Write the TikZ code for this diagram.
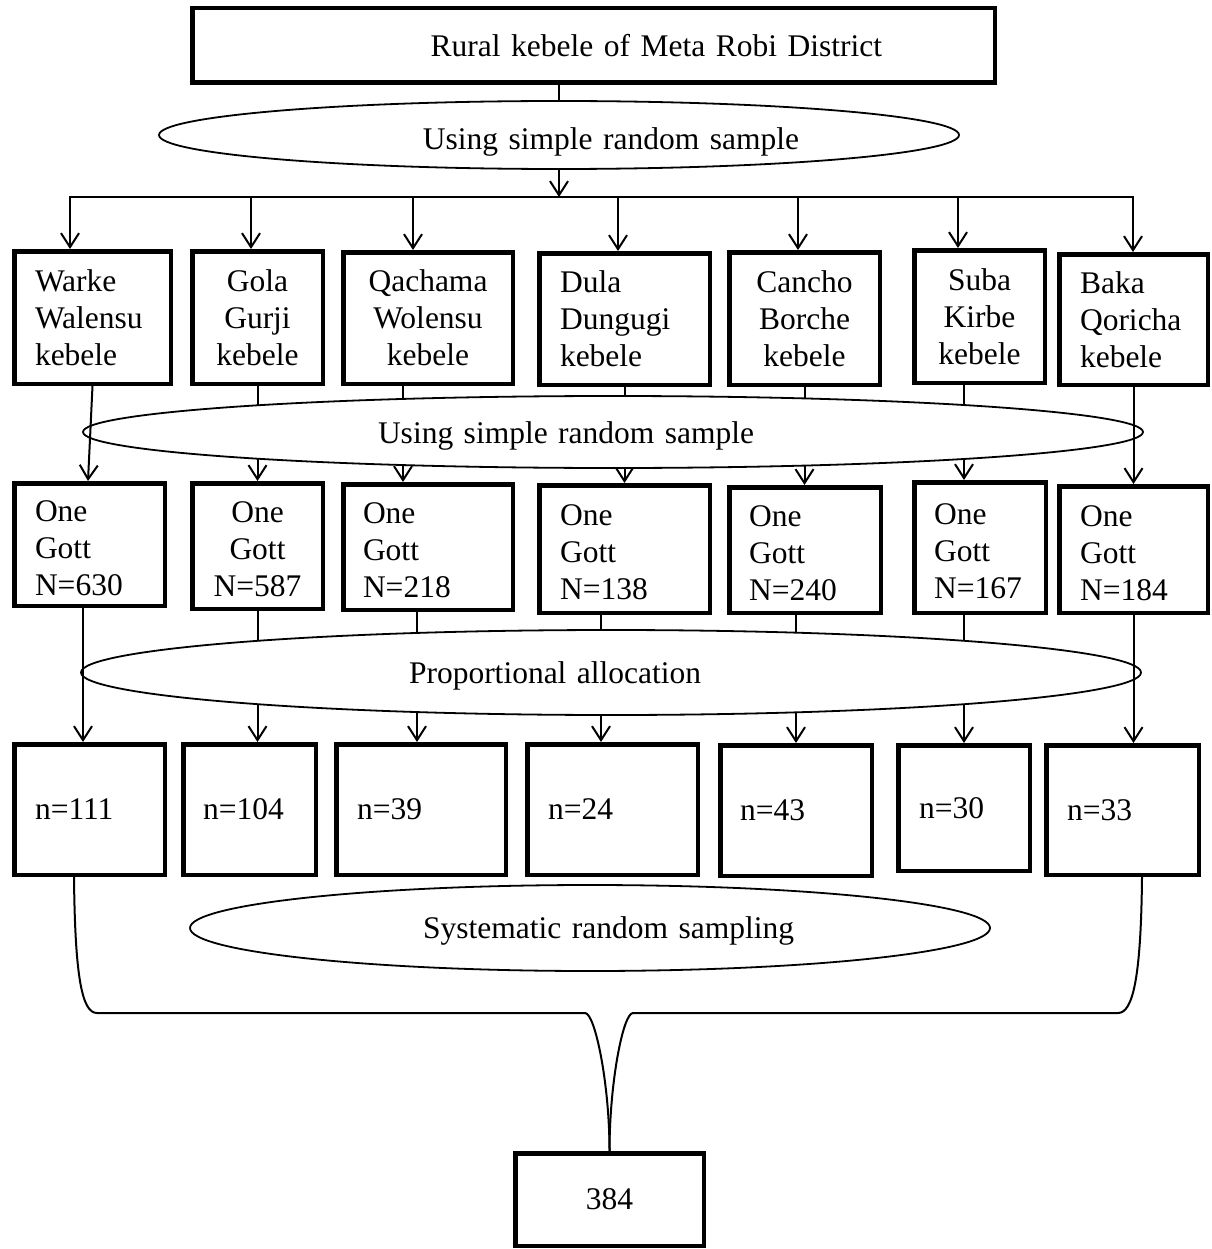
\documentclass[tikz,border=0pt]{standalone}
\usepackage{fontspec}
\setmainfont{Liberation Serif}
\usetikzlibrary{arrows.meta,shapes.geometric}
\begin{document}
\begin{tikzpicture}[x=1pt,y=-1pt,
  every node/.style={font=\fontsize{31.5}{37}\selectfont},
  rbox/.style={draw, line width=4.5pt, inner sep=0pt, fill=white},
  lbox/.style={rbox, align=left},
  cbox/.style={rbox, align=center},
  oval/.style={draw, ellipse, line width=1.8pt, fill=white, inner sep=0pt},
  conn/.style={line width=2pt},
  arr/.style={line width=2pt, -{Straight Barb[length=14pt,width=18pt]}},
  rowone/.style={text height=22pt},
  rowtwo/.style={text height=28pt}
]
\useasboundingbox (0,0) rectangle (1211,1249);

% top box
\node[rbox, align=right, text width=577pt, minimum width=802.5pt, minimum height=74.5pt] (top) at (593.5,45.5) {Rural kebele of Meta Robi District};

% row 1: kebeles
\node[lbox, rowone, text width=115pt, minimum width=156.5pt, minimum height=132.5pt] (k1) at (92.5,317.5) {Warke\\Walensu\\kebele};
\node[cbox, rowone, text width=120pt, minimum width=130.5pt, minimum height=132.5pt] (k2) at (257.5,317.5) {Gola\\Gurji\\kebele};
\node[cbox, rowone, text width=150pt, minimum width=169.5pt, minimum height=131.5pt] (k3) at (428,318) {Qachama\\Wolensu\\kebele};
\node[lbox, rowone, text width=129pt, minimum width=170.5pt, minimum height=131.5pt] (k4) at (624.5,319) {Dula\\Dungugi\\kebele};
\node[cbox, rowone, text width=140pt, minimum width=150.5pt, minimum height=132.5pt] (k5) at (804.5,318.5) {Cancho\\Borche\\kebele};
\node[cbox, rowone, text width=120pt, minimum width=130.5pt, minimum height=132.5pt] (k6) at (979.5,316.5) {Suba\\Kirbe\\kebele};
\node[lbox, rowone, text width=107pt, minimum width=148.5pt, minimum height=130.5pt] (k7) at (1133.5,319.5) {Baka\\Qoricha\\kebele};

% row 2: Gotts
\node[lbox, rowtwo, text width=109pt, minimum width=150.5pt, minimum height=122.5pt] (g1) at (89.5,544.5) {One\\Gott\\N=630};
\node[cbox, rowtwo, text width=120pt, minimum width=130.5pt, minimum height=125.5pt] (g2) at (257.5,546) {One\\Gott\\N=587};
\node[lbox, rowtwo, text width=130pt, minimum width=169.5pt, minimum height=125.5pt] (g3) at (428,547) {One\\Gott\\N=218};
\node[lbox, rowtwo, text width=129pt, minimum width=170.5pt, minimum height=127.5pt] (g4) at (624.5,549) {One\\Gott\\N=138};
\node[lbox, rowtwo, text width=112pt, minimum width=151.5pt, minimum height=125.5pt] (g5) at (805,550) {One\\Gott\\N=240};
\node[lbox, rowtwo, text width=92pt, minimum width=131.5pt, minimum height=130.5pt] (g6) at (980,547.5) {One\\Gott\\N=167};
\node[lbox, rowtwo, text width=107pt, minimum width=148.5pt, minimum height=126.5pt] (g7) at (1133.5,549.5) {One\\Gott\\N=184};

% row 3: samples
\node[lbox, text width=109pt, minimum width=150.5pt, minimum height=130.5pt] (n1) at (89.5,809.5) {n=111};
\node[lbox, text width=93pt, minimum width=132.5pt, minimum height=130.5pt] (n2) at (249.5,809.5) {n=104};
\node[lbox, text width=128pt, minimum width=169.5pt, minimum height=130.5pt] (n3) at (421,809.5) {n=39};
\node[lbox, text width=129pt, minimum width=170.5pt, minimum height=130.5pt] (n4) at (612.5,809.5) {n=24};
\node[lbox, text width=112pt, minimum width=151.5pt, minimum height=130.5pt] (n5) at (796,810.5) {n=43};
\node[lbox, text width=90pt, minimum width=131.5pt, minimum height=125.5pt] (n6) at (964,808) {n=30};
\node[lbox, text width=111pt, minimum width=152.5pt, minimum height=129.5pt] (n7) at (1122.5,810) {n=33};

% final box
\node[rbox, minimum width=188.5pt, minimum height=92.5pt] (f) at (609.5,1199.5) {384};

% first ellipse and distribution
\node[oval, align=right, text width=480pt, text height=30pt, text depth=0pt, minimum width=800pt, minimum height=68pt] (e1) at (559,135) {Using simple random sample};
\draw[conn] (top.south -| e1.north) -- (e1.north);
\coordinate (d1) at (70,197);
\coordinate (d2) at (251,197);
\coordinate (d3) at (413,197);
\coordinate (d4) at (618,197);
\coordinate (d5) at (798,197);
\coordinate (d6) at (958,197);
\coordinate (d7) at (1133,197);
\draw[conn, line cap=rect] (d1) -- (d7);
\draw[arr] (e1.south) -- (e1.south |- d1);
\foreach \i in {1,...,7} \draw[arr] (d\i) -- (d\i |- k\i.north);

% row 1 -> row 2
\draw[arr] (k2.south) -- (k2.south |- g2.north);
\draw[arr] ([xshift=-25pt]k3.south) -- ([xshift=-25pt]k3.south |- g3.north);
\draw[arr] (k4.south) -- (k4.south |- g4.north);
\draw[arr] (k5.south) -- (k5.south |- g5.north);
\draw[arr] ([xshift=-15.5pt]k6.south) -- ([xshift=-15.5pt]k6.south |- g6.north);
\node[oval, align=left, text width=470pt, text height=22pt, text depth=0pt, minimum width=1060pt, minimum height=72pt] (e2) at (613,432) {Using simple random sample};
\draw[arr] (k1.south) -- ([xshift=-1.5pt]g1.north);
\draw[arr] (k7.south) -- (k7.south |- g7.north);

% row 2 -> row 3
\draw[arr] (g2.south) -- (g2.south |- n2.north);
\draw[arr] ([xshift=-11pt]g3.south) -- ([xshift=-11pt]g3.south |- n3.north);
\draw[arr] ([xshift=-23.5pt]g4.south) -- ([xshift=-23.5pt]g4.south |- n4.north);
\draw[arr] (g5.south -| n5.north) -- (n5.north);
\draw[arr] (g6.south -| n6.north) -- (n6.north);
\node[oval, align=left, text width=404pt, text height=21pt, text depth=0pt, minimum width=1060pt, minimum height=85pt] (e3) at (611,672.5) {Proportional allocation};
\draw[arr] ([xshift=-6.5pt]g1.south) -- ([xshift=-6.5pt]n1.north);
\draw[arr] (g7.south) -- (g7.south |- n7.north);

% systematic sampling and brace
\node[oval, align=right, text width=408pt, text height=20pt, text depth=0pt, minimum width=800pt, minimum height=86pt] (e4) at (590,928) {Systematic random sampling};
\coordinate (bL) at (97,1013);
\coordinate (mL) at (585,1013);
\coordinate (mR) at (633,1013);
\coordinate (bR) at (1118,1013);
\draw[conn] ([xshift=-15.5pt]n1.south) .. controls +(1,100) and +(-15,0) .. (bL) -- (mL) .. controls +(10,0) and +(0,-68) .. (f.north);
\draw[conn] (f.north) .. controls +(0,-68) and +(-10,0) .. (mR) -- (bR) .. controls +(15,0) and +(-1,100) .. ([xshift=19.5pt]n7.south);
\end{tikzpicture}
\end{document}
